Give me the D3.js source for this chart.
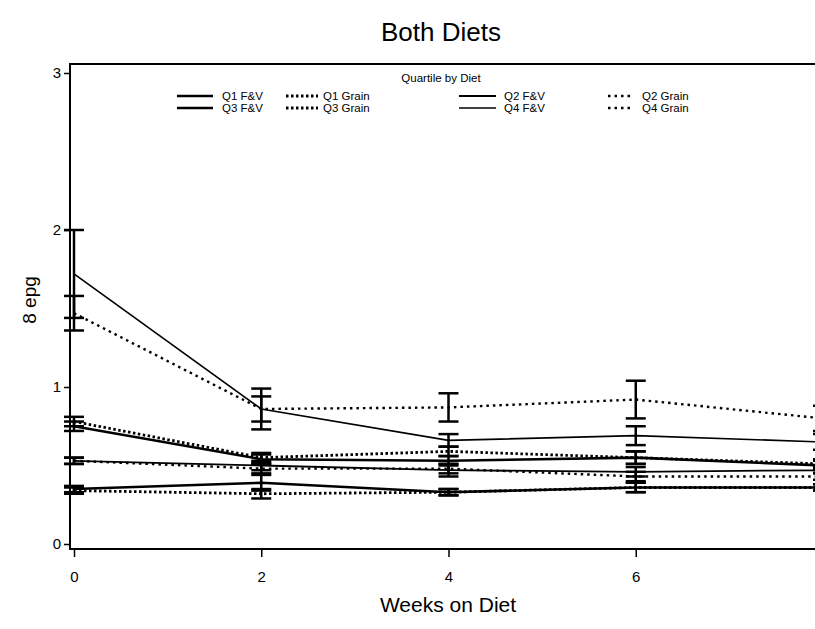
<!DOCTYPE html>
<html>
<head>
<meta charset="utf-8">
<script src="https://cdn.jsdelivr.net/npm/d3@7"></script>
<style>
  body { margin: 0; background: #fff; }
  text { font-family: "Liberation Sans", Arial, sans-serif; fill: #000; }
</style>
</head>
<body>
<div id="chart"></div>
<script>
// weeks on diet
const weeks = [0, 2, 4, 6, 8];
const yTicks = [0, 1, 2, 3];
const xTicks = [0, 2, 4, 6];

// series names (legend order)
const seriesNames = ["Q1 F&V", "Q1 Grain", "Q2 F&V", "Q2 Grain", "Q3 F&V", "Q3 Grain", "Q4 F&V", "Q4 Grain"];

// means per series
const q1fv    = [0.35, 0.39, 0.33, 0.36, 0.36];
const q1grain = [0.34, 0.32, 0.33, 0.36, 0.36];
const q2fv    = [0.53, 0.50, 0.47, 0.46, 0.47];
const q2grain = [0.53, 0.48, 0.48, 0.43, 0.43];
const q3fv    = [0.75, 0.54, 0.53, 0.55, 0.50];
const q3grain = [0.78, 0.55, 0.59, 0.55, 0.51];
const q4fv    = [1.72, 0.86, 0.66, 0.69, 0.65];
const q4grain = [1.47, 0.86, 0.87, 0.92, 0.80];

// error bar half widths
const q1fvErr    = [0.02, 0.05, 0.02, 0.03, 0.02];
const q1grainErr = [0.02, 0.03, 0.02, 0.03, 0.02];
const q2fvErr    = [0.02, 0.03, 0.04, 0.03, 0.02];
const q2grainErr = [0.02, 0.03, 0.03, 0.03, 0.02];
const q3fvErr    = [0.03, 0.03, 0.03, 0.04, 0.03];
const q3grainErr = [0.03, 0.03, 0.03, 0.04, 0.03];
const q4fvErr    = [0.28, 0.08, 0.04, 0.06, 0.05];
const q4grainErr = [0.11, 0.13, 0.09, 0.12, 0.08];

const means = [q1fv, q1grain, q2fv, q2grain, q3fv, q3grain, q4fv, q4grain];
const errs = [q1fvErr, q1grainErr, q2fvErr, q2grainErr, q3fvErr, q3grainErr, q4fvErr, q4grainErr];

// line styles
const styles = [
  {w: 2.6, dash: null},
  {w: 2.8, dash: "2.5,2.5"},
  {w: 1.8, dash: null},
  {w: 2.4, dash: "2.5,4"},
  {w: 2.6, dash: null},
  {w: 2.8, dash: "2.5,2.5"},
  {w: 1.6, dash: null},
  {w: 2.4, dash: "2.5,4"}
];

const series = seriesNames.map((name, i) => ({
  name: name,
  style: styles[i],
  values: weeks.map((w, j) => ({week: w, mean: means[i][j], err: errs[i][j]}))
}));

const W = 815, H = 629;
const frame = {left: 70, top: 64, bottom: 549};

const svg = d3.select("#chart")
  .append("svg")
    .attr("width", W)
    .attr("height", H);

const x = d3.scaleLinear().domain([0, 8]).range([74, 823]);
const y = d3.scaleLinear().domain([0, 3]).range([544, 73]);

// frame: top, left, bottom
svg.append("path")
  .attr("d", `M${W},${frame.top}H${frame.left}V${frame.bottom}H${W}`)
  .attr("fill", "none")
  .attr("stroke", "#000")
  .attr("stroke-width", 2);

// y axis
const yAxis = svg.append("g")
  .attr("transform", `translate(${frame.left},0)`)
  .call(d3.axisLeft(y).tickValues(yTicks).tickFormat(d3.format("d")).tickSize(6).tickPadding(3));
yAxis.select(".domain").remove();
yAxis.selectAll("line").attr("stroke-width", 1.5);
yAxis.selectAll("text").style("font-size", "15px").attr("font-family", null);

// x axis
const xAxis = svg.append("g")
  .attr("transform", `translate(0,${frame.bottom})`)
  .call(d3.axisBottom(x).tickValues(xTicks).tickFormat(d3.format("d")).tickSize(8).tickPadding(14));
xAxis.select(".domain").remove();
xAxis.selectAll("line").attr("stroke-width", 1.5);
xAxis.selectAll("text").style("font-size", "15px").attr("font-family", null);

// lines
const line = d3.line()
  .x(d => x(d.week))
  .y(d => y(d.mean));

svg.append("g")
  .selectAll("path")
  .data(series)
  .join("path")
    .attr("d", d => line(d.values))
    .attr("fill", "none")
    .attr("stroke", "#000")
    .attr("stroke-width", d => d.style.w)
    .attr("stroke-dasharray", d => d.style.dash);

// error bars
const capW = 10;
const bars = svg.append("g")
  .selectAll("g")
  .data(series.flatMap(s => s.values))
  .join("g");

bars.append("line")
  .attr("x1", d => x(d.week)).attr("x2", d => x(d.week))
  .attr("y1", d => y(d.mean - d.err)).attr("y2", d => y(d.mean + d.err))
  .attr("stroke", "#000").attr("stroke-width", 2.5);

bars.selectAll("line.cap")
  .data(d => [d.mean - d.err, d.mean + d.err].map(v => ({week: d.week, v: v})))
  .join("line")
    .attr("class", "cap")
    .attr("x1", d => x(d.week) - capW).attr("x2", d => x(d.week) + capW)
    .attr("y1", d => y(d.v)).attr("y2", d => y(d.v))
    .attr("stroke", "#000").attr("stroke-width", 2.5);

// title
svg.append("text")
  .attr("x", 441).attr("y", 41)
  .attr("text-anchor", "middle")
  .style("font-size", "26px")
  .text("Both Diets");

// axis labels
svg.append("text")
  .attr("x", 448).attr("y", 612)
  .attr("text-anchor", "middle")
  .style("font-size", "21px")
  .text("Weeks on Diet");

svg.append("text")
  .attr("transform", "translate(36,300) rotate(-90)")
  .attr("text-anchor", "middle")
  .style("font-size", "19px")
  .text("8 epg");

// legend
svg.append("text")
  .attr("x", 441).attr("y", 82)
  .attr("text-anchor", "middle")
  .style("font-size", "11.5px")
  .text("Quartile by Diet");

const colX = [[177, 213, 222], [286, 318, 323], [459, 496, 504], [608, 632, 642]];
const rowY = [100, 112];

// Q1/Q3 in first two columns, Q2/Q4 in last two
const colOf = i => (Math.floor(i / 2) % 2) * 2 + (i % 2);
const rowOf = i => Math.floor(Math.floor(i / 2) / 2);

const legend = svg.append("g")
  .selectAll("g")
  .data(series)
  .join("g")
    .attr("transform", (d, i) => `translate(0,${rowY[rowOf(i)]})`);

legend.append("line")
  .attr("x1", (d, i) => colX[colOf(i)][0])
  .attr("x2", (d, i) => colX[colOf(i)][1])
  .attr("y1", -4).attr("y2", -4)
  .attr("stroke", "#000")
  .attr("stroke-width", d => d.style.w)
  .attr("stroke-dasharray", d => d.style.dash);

legend.append("text")
  .attr("x", (d, i) => colX[colOf(i)][2])
  .attr("y", 0)
  .style("font-size", "11.5px")
  .text(d => d.name);
</script>
</body>
</html>
